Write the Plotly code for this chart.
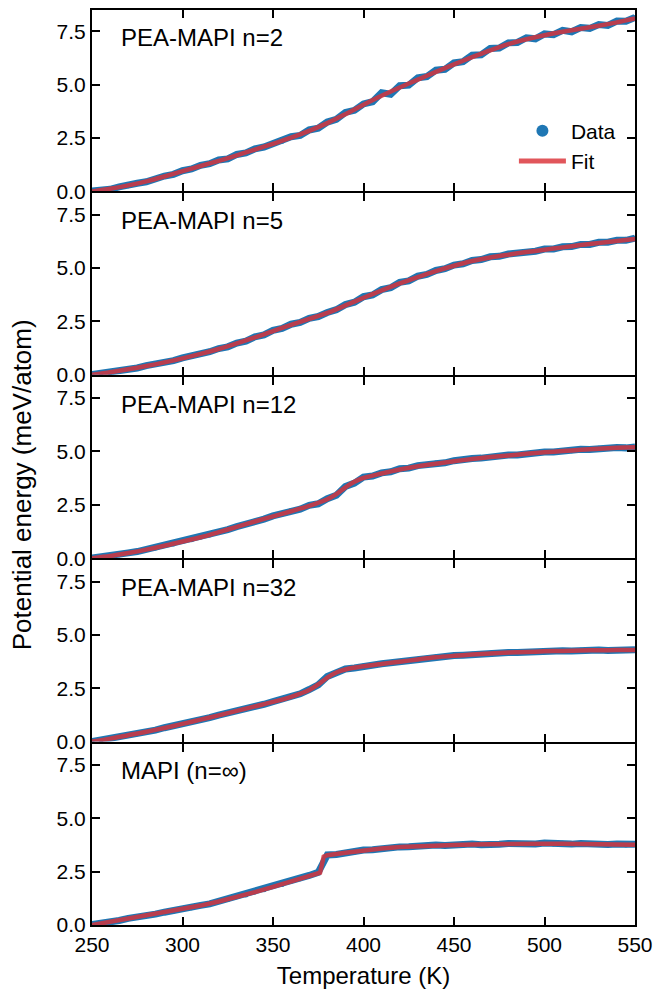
import plotly.graph_objects as go
from plotly.subplots import make_subplots

# ---------------- data ----------------
LABELS = ["PEA-MAPI n=2", "PEA-MAPI n=5", "PEA-MAPI n=12", "PEA-MAPI n=32", "MAPI (n=\u221e)"]

T_DATA = list(range(250, 551, 5))

DATA_N2 = [0.02, 0.04, 0.10, 0.21, 0.26, 0.38, 0.45, 0.60, 0.72, 0.80, 0.97, 1.05, 1.22, 1.30, 1.47, 1.52,
           1.73, 1.80, 1.99, 2.08, 2.25, 2.35, 2.56, 2.62, 2.88, 2.96, 3.25, 3.38, 3.70, 3.80, 4.10, 4.20,
           4.62, 4.55, 4.95, 4.98, 5.32, 5.38, 5.68, 5.72, 6.02, 6.08, 6.38, 6.40, 6.70, 6.72, 6.96, 6.98,
           7.20, 7.15, 7.38, 7.34, 7.55, 7.48, 7.68, 7.64, 7.82, 7.78, 7.98, 7.97, 8.15]
DATA_N5 = [0.01, 0.07, 0.10, 0.20, 0.27, 0.32, 0.43, 0.48, 0.60, 0.66, 0.79, 0.86, 1.00, 1.08, 1.23, 1.31,
           1.49, 1.58, 1.78, 1.87, 2.08, 2.17, 2.37, 2.45, 2.65, 2.73, 2.92, 3.05, 3.29, 3.40, 3.66, 3.74,
           3.99, 4.08, 4.33, 4.40, 4.62, 4.70, 4.89, 4.97, 5.14, 5.20, 5.36, 5.40, 5.53, 5.55, 5.66, 5.68,
           5.78, 5.79, 5.89, 5.90, 6.00, 6.01, 6.11, 6.11, 6.21, 6.21, 6.30, 6.30, 6.40]
DATA_N12 = [0.01, 0.05, 0.11, 0.16, 0.25, 0.31, 0.41, 0.48, 0.59, 0.67, 0.79, 0.87, 0.99, 1.09, 1.23, 1.34,
            1.48, 1.58, 1.74, 1.83, 1.98, 2.07, 2.23, 2.30, 2.48, 2.55, 2.79, 2.95, 3.36, 3.52, 3.80, 3.85,
            4.00, 4.05, 4.19, 4.22, 4.34, 4.36, 4.46, 4.47, 4.57, 4.58, 4.67, 4.69, 4.76, 4.76, 4.83, 4.84,
            4.91, 4.91, 4.98, 4.98, 5.04, 5.04, 5.10, 5.09, 5.15, 5.14, 5.19, 5.17, 5.21]
DATA_N32 = [0.00, 0.07, 0.14, 0.21, 0.30, 0.37, 0.47, 0.54, 0.65, 0.73, 0.84, 0.92, 1.04, 1.12, 1.24, 1.33,
            1.45, 1.54, 1.66, 1.75, 1.87, 1.97, 2.12, 2.24, 2.44, 2.66, 3.05, 3.22, 3.40, 3.45, 3.54, 3.58,
            3.65, 3.69, 3.75, 3.79, 3.86, 3.90, 3.96, 3.98, 4.03, 4.05, 4.09, 4.10, 4.14, 4.15, 4.18, 4.18,
            4.21, 4.21, 4.24, 4.23, 4.26, 4.25, 4.28, 4.27, 4.29, 4.27, 4.30, 4.28, 4.30]
DATA_MAPI = [0.02, 0.06, 0.16, 0.21, 0.31, 0.36, 0.46, 0.51, 0.60, 0.66, 0.75, 0.81, 0.92, 0.99, 1.11, 1.19,
             1.32, 1.41, 1.55, 1.65, 1.81, 1.90, 2.06, 2.17, 2.32, 2.47, 3.28, 3.30, 3.38, 3.42, 3.51, 3.53,
             3.59, 3.61, 3.66, 3.67, 3.72, 3.70, 3.75, 3.73, 3.77, 3.74, 3.79, 3.76, 3.81, 3.78, 3.82, 3.79,
             3.82, 3.80, 3.84, 3.80, 3.83, 3.79, 3.82, 3.79, 3.81, 3.77, 3.80, 3.75, 3.78]

T_FIT = list(range(250, 551, 10))
FIT_N2 = [0.00, 0.12, 0.28, 0.47, 0.70, 0.95, 1.19, 1.43, 1.69, 1.96, 2.23, 2.52, 2.84, 3.20, 3.62, 4.06,
          4.48, 4.87, 5.24, 5.60, 5.95, 6.29, 6.61, 6.90, 7.13, 7.32, 7.48, 7.62, 7.76, 7.92, 8.10]
FIT_N5 = [0.00, 0.12, 0.26, 0.41, 0.58, 0.77, 0.98, 1.21, 1.47, 1.75, 2.05, 2.34, 2.62, 2.90, 3.25, 3.61,
          3.95, 4.28, 4.58, 4.86, 5.11, 5.33, 5.50, 5.63, 5.75, 5.86, 5.97, 6.08, 6.18, 6.27, 6.37]
T_FIT_N12 = [250, 260, 270, 280, 290, 300, 310, 320, 330, 340, 350, 360, 370, 380, 385, 390, 395, 400,
             410, 420, 430, 440, 450, 460, 470, 480, 490, 500, 510, 520, 530, 540, 550]
FIT_N12 = [0.00, 0.10, 0.24, 0.40, 0.58, 0.78, 0.98, 1.22, 1.47, 1.72, 1.96, 2.20, 2.45, 2.76, 3.00, 3.32,
           3.58, 3.76, 3.97, 4.16, 4.31, 4.43, 4.54, 4.65, 4.74, 4.81, 4.89, 4.96, 5.02, 5.08, 5.13, 5.17, 5.20]
T_FIT_N32 = [250, 260, 270, 280, 290, 300, 310, 320, 330, 340, 350, 360, 370, 375, 380, 385, 390, 400,
             410, 420, 430, 440, 450, 460, 470, 480, 490, 500, 510, 520, 530, 540, 550]
FIT_N32 = [0.00, 0.14, 0.30, 0.46, 0.64, 0.83, 1.03, 1.23, 1.44, 1.65, 1.86, 2.10, 2.42, 2.68, 3.00, 3.24,
           3.38, 3.53, 3.64, 3.74, 3.85, 3.95, 4.02, 4.08, 4.13, 4.17, 4.20, 4.23, 4.25, 4.27, 4.28, 4.29, 4.29]
T_FIT_MAPI = [250, 260, 270, 280, 290, 300, 310, 320, 330, 340, 350, 360, 365, 370, 375, 376, 378, 380,
              390, 400, 410, 420, 430, 440, 450, 460, 470, 480, 490, 500, 510, 520, 530, 540, 550]
FIT_MAPI = [0.00, 0.15, 0.30, 0.45, 0.59, 0.74, 0.91, 1.10, 1.31, 1.54, 1.79, 2.04, 2.16, 2.28, 2.40, 2.45,
            3.20, 3.27, 3.39, 3.50, 3.58, 3.65, 3.70, 3.73, 3.75, 3.77, 3.79, 3.80, 3.80, 3.81, 3.81, 3.80,
            3.79, 3.78, 3.76]

DATA = [DATA_N2, DATA_N5, DATA_N12, DATA_N32, DATA_MAPI]
FITS = [(T_FIT, FIT_N2, "spline"), (T_FIT, FIT_N5, "spline"), (T_FIT_N12, FIT_N12, "spline"),
        (T_FIT_N32, FIT_N32, "spline"), (T_FIT_MAPI, FIT_MAPI, "linear")]

X_TICKS = [250, 300, 350, 400, 450, 500, 550]
Y_TICKS = [0.0, 2.5, 5.0, 7.5]

# ---------------- figure ----------------
BLUE = "#1f77b4"
RED = "rgba(218,49,55,0.82)"
FONT = "Liberation Sans, Arial, Helvetica, sans-serif"
LW = 2
PLOT_H = 998 - 10 - 73

fig = make_subplots(rows=5, cols=1, shared_xaxes=True, vertical_spacing=LW / PLOT_H)

for i in range(5):
    r = i + 1
    fig.add_trace(go.Scatter(x=T_DATA, y=DATA[i], mode="lines", line=dict(color=BLUE, width=7),
                             showlegend=False, hoverinfo="skip"), row=r, col=1)
    fig.add_trace(go.Scatter(x=T_DATA, y=DATA[i], mode="markers", marker=dict(color=BLUE, size=5),
                             name="Data", legendgroup="data", showlegend=(i == 0)), row=r, col=1)
    tx, fy, shp = FITS[i]
    fig.add_trace(go.Scatter(x=tx, y=fy, mode="lines",
                             line=dict(color=RED, width=4.5, shape=shp, smoothing=0.8 if shp == "spline" else None),
                             name="Fit", legendgroup="fit", showlegend=(i == 0)), row=r, col=1)
    fig.add_annotation(text=LABELS[i], xref=f"x{'' if r == 1 else r} domain", yref=f"y{'' if r == 1 else r} domain",
                       x=0.05, y=0.85, xanchor="left", yanchor="middle", showarrow=False,
                       font=dict(size=24, color="black", family=FONT))

axis_style = dict(showline=True, linecolor="black", linewidth=LW, mirror="allticks", ticks="inside",
                  ticklen=8, tickwidth=1.5, tickcolor="black", showgrid=False, zeroline=False,
                  automargin=False, tickfont=dict(size=21, color="black", family=FONT))

fig.update_xaxes(range=[250, 550], tickvals=X_TICKS, **axis_style)
fig.update_yaxes(range=[0, 8.5], tickvals=Y_TICKS, tickformat=".1f", **axis_style)
fig.update_xaxes(title=dict(text="Temperature (K)", font=dict(size=24, color="black", family=FONT), standoff=12),
                 row=5, col=1)

fig.add_annotation(text="Potential energy (meV/atom)", xref="paper", yref="paper", x=-0.13, y=0.481,
                   textangle=-90, showarrow=False, xanchor="center", yanchor="middle",
                   font=dict(size=26, color="black", family=FONT))

fig.update_layout(
    width=655, height=998,
    margin=dict(l=92, r=20, t=10, b=73),
    plot_bgcolor="white", paper_bgcolor="white",
    font=dict(family=FONT, color="black"),
    showlegend=True,
    legend=dict(x=0.777, y=0.89, xanchor="left", yanchor="top", bgcolor="rgba(0,0,0,0)",
                font=dict(size=21, color="black", family=FONT), itemsizing="constant",
                itemwidth=47, tracegroupgap=0),
)

fig.write_html("out.html")
